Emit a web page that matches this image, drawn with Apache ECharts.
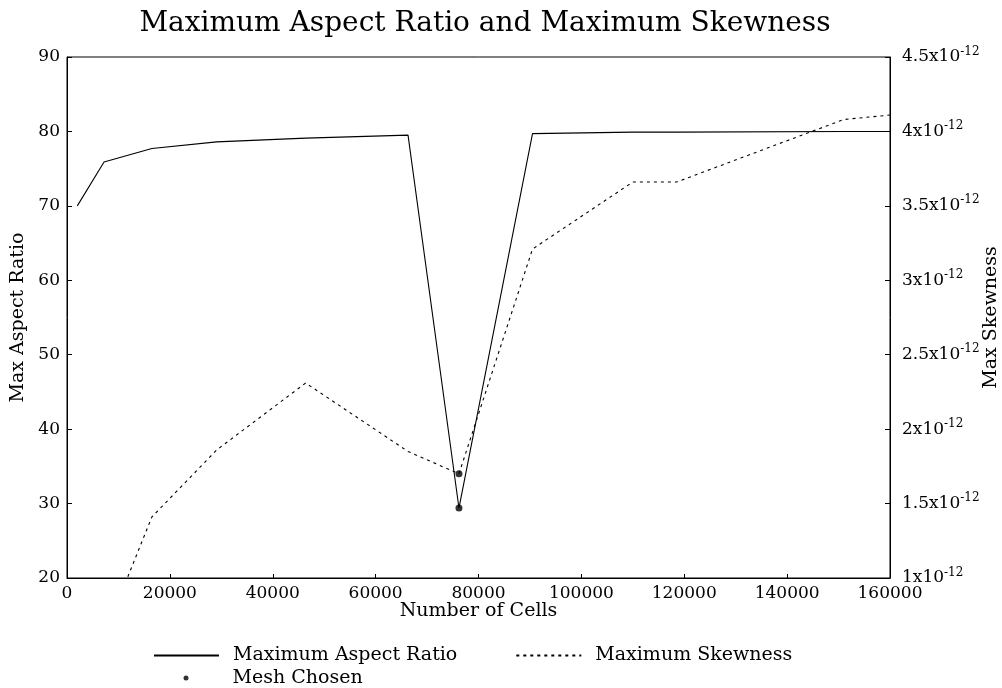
<!DOCTYPE html>
<html>
<head>
<meta charset="utf-8">
<script src="https://cdn.jsdelivr.net/npm/echarts@6/dist/echarts.min.js"></script>
<style>html,body{margin:0;padding:0;background:#fff;}#c{width:1002px;height:688px;}</style>
</head>
<body>
<div id="c"></div>
<script>
const cells = [2000, 7200, 16500, 29100, 46400, 66300, 76200, 90500, 110000, 118500, 151000, 160000];
const maxAspectRatio = [70.0, 75.9, 77.7, 78.6, 79.1, 79.5, 29.4, 79.7, 79.9, 79.9, 80.0, 80.0];
const maxSkewnessE12 = [0.40, 0.61, 1.41, 1.86, 2.31, 1.85, 1.70, 3.21, 3.66, 3.66, 4.08, 4.11];
const chosenCells = 76200;
const chosenAspect = 29.4;
const chosenSkewE12 = 1.70;
const xTickLabels = ['0', '20000', '40000', '60000', '80000', '100000', '120000', '140000', '160000'];
const leftTickLabels = ['20', '30', '40', '50', '60', '70', '80', '90'];
const rightTickMantissas = ['1', '1.5', '2', '2.5', '3', '3.5', '4', '4.5'];
const rightTickExponent = '-12';

const FONT = 'DejaVu Serif';
const chart = echarts.init(document.getElementById('c'), null, {renderer: 'canvas'});
const aspectData = cells.map((c, i) => [c, maxAspectRatio[i]]);
const skewData = cells.map((c, i) => [c, maxSkewnessE12[i]]);

chart.setOption({
  backgroundColor: '#fff',
  animation: false,
  title: {
    text: 'Maximum Aspect Ratio and Maximum Skewness',
    left: 480, textAlign: 'center', top: 5,
    textStyle: {fontFamily: FONT, fontSize: 28, fontWeight: 'normal', color: '#000'}
  },
  grid: {left: 67, right: 112, top: 57, bottom: 110, show: true, borderColor: '#000', borderWidth: 1,
    backgroundColor: 'transparent', outerBoundsMode: 'none', containLabel: false},
  legend: [
    {
      data: ['Maximum Aspect Ratio', 'Maximum Skewness'],
      left: 153, top: 646, orient: 'horizontal', padding: 0,
      itemWidth: 65, itemHeight: 14, itemGap: 58,
      itemStyle: {opacity: 0},
      textStyle: {fontFamily: FONT, fontSize: 19, color: '#000', padding: [0, 0, 0, 9]}
    },
    {
      data: [{name: 'Mesh Chosen', icon: 'circle'}],
      left: 183.5, top: 668.5, padding: 0,
      itemWidth: 5, itemHeight: 5,
      itemStyle: {color: '#000'},
      textStyle: {fontFamily: FONT, fontSize: 19, color: '#000', padding: [0, 0, 0, 39]}
    }
  ],
  xAxis: {
    type: 'value', min: 0, max: 160000, interval: 20000,
    name: 'Number of Cells', nameLocation: 'middle', nameGap: 24, nameMoveOverlap: false,
    nameTextStyle: {fontFamily: FONT, fontSize: 19, color: '#000'},
    axisLine: {show: true, lineStyle: {color: '#000', width: 1}},
    axisTick: {show: true, inside: true, length: 4, lineStyle: {color: '#000'}},
    axisLabel: {fontFamily: FONT, fontSize: 17, color: '#000', margin: 7,
      formatter: (v) => xTickLabels[Math.round(v / 20000)]},
    splitLine: {show: false}
  },
  yAxis: [
    {
      type: 'value', min: 20, max: 90, interval: 10, position: 'left',
      name: 'Max Aspect Ratio', nameLocation: 'middle', nameGap: 39, nameRotate: 90, nameMoveOverlap: false,
      nameTextStyle: {fontFamily: FONT, fontSize: 19, color: '#000'},
      axisLine: {show: true, lineStyle: {color: '#000', width: 1}},
      axisTick: {show: true, inside: true, length: 5, lineStyle: {color: '#000'}},
      axisLabel: {fontFamily: FONT, fontSize: 17, color: '#000', margin: 7,
        formatter: (v) => leftTickLabels[Math.round((v - 20) / 10)]},
      splitLine: {show: false}
    },
    {
      type: 'value', min: 1, max: 4.5, interval: 0.5, position: 'right',
      name: 'Max Skewness', nameLocation: 'middle', nameGap: 92, nameRotate: 90, nameMoveOverlap: false,
      nameTextStyle: {fontFamily: FONT, fontSize: 19, color: '#000'},
      axisLine: {show: true, lineStyle: {color: '#000', width: 1}},
      axisTick: {show: true, inside: true, length: 5, lineStyle: {color: '#000'}},
      axisLabel: {fontFamily: FONT, fontSize: 17, color: '#000', margin: 12,
        formatter: (v) => '{b|' + rightTickMantissas[Math.round((v - 1) / 0.5)] + 'x10}{s|' + rightTickExponent + '}',
        rich: {
          b: {fontFamily: FONT, fontSize: 17, color: '#000'},
          s: {fontFamily: FONT, fontSize: 12, color: '#000', verticalAlign: 'bottom', padding: [0, 0, 11, 0]}
        }},
      splitLine: {show: false}
    }
  ],
  series: [
    {
      name: 'Maximum Aspect Ratio', type: 'line', yAxisIndex: 0, data: aspectData,
      symbol: 'none', lineStyle: {color: '#000', width: 1.1, type: 'solid'}, itemStyle: {color: '#000'}, clip: true
    },
    {
      name: 'Maximum Skewness', type: 'line', yAxisIndex: 1, data: skewData,
      symbol: 'none', lineStyle: {color: '#000', width: 1.1, type: [3, 4]}, itemStyle: {color: '#000'}, clip: true
    },
    {
      name: 'Mesh Chosen', type: 'scatter', yAxisIndex: 0, data: [[chosenCells, chosenAspect]],
      symbol: 'circle', symbolSize: 7, itemStyle: {color: '#000'}, z: 5
    },
    {
      name: 'Mesh Chosen', type: 'scatter', yAxisIndex: 1, data: [[chosenCells, chosenSkewE12]],
      symbol: 'circle', symbolSize: 7, itemStyle: {color: '#000'}, z: 5
    }
  ]
});
</script>
</body>
</html>
